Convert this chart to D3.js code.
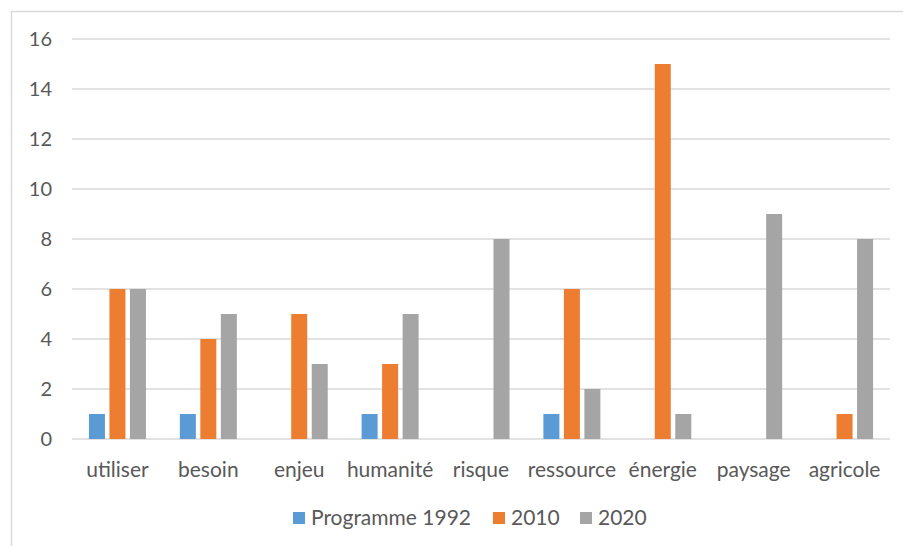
<!DOCTYPE html>
<html>
<head>
<meta charset="utf-8">
<script src="https://cdn.jsdelivr.net/npm/d3@7"></script>
<style>
  body { margin: 0; background: #fff; }
  text { font-family: Lato, "Open Sans", sans-serif; fill: #595959; }
</style>
</head>
<body>
<svg id="chart" width="903" height="546"></svg>
<script>
var categories = ["utiliser", "besoin", "enjeu", "humanité", "risque", "ressource", "énergie", "paysage", "agricole"];
var seriesNames = ["Programme 1992", "2010", "2020"];
var values1992 = [1, 1, 0, 1, 0, 1, 0, 0, 0];
var values2010 = [6, 4, 5, 3, 0, 6, 15, 0, 1];
var values2020 = [6, 5, 3, 5, 8, 2, 1, 9, 8];
var yTicks = [0, 2, 4, 6, 8, 10, 12, 14, 16];
var colors = ["#5B9BD5", "#ED7D31", "#A5A5A5"];

var svg = d3.select("#chart"),
    margin = {top: 39, right: 13, bottom: 107, left: 72},
    width = 903 - margin.left - margin.right,
    height = 546 - margin.top - margin.bottom;

// frame of the chart (only top and left edges are visible)
svg.append("rect")
    .attr("x", 11.5).attr("y", 11.5)
    .attr("width", 1000).attr("height", 1000)
    .attr("fill", "none")
    .attr("stroke", "#d9d9d9")
    .attr("stroke-width", 1.5);

var g = svg.append("g")
    .attr("transform", "translate(" + margin.left + "," + margin.top + ")");

var x = d3.scaleBand().domain(categories).range([0, width]);
var y = d3.scaleLinear().domain([0, 16]).range([height, 0]);
var barW = 16, step = 20.5;

// gridlines
g.selectAll(".grid")
    .data(yTicks)
    .enter().append("line")
    .attr("x1", 0).attr("x2", width)
    .attr("y1", function(d) { return y(d); })
    .attr("y2", function(d) { return y(d); })
    .attr("stroke", "#d9d9d9")
    .attr("stroke-width", 1.5);

// y labels
g.selectAll(".ytick")
    .data(yTicks)
    .enter().append("text")
    .attr("x", -20)
    .attr("y", function(d) { return y(d); })
    .attr("dy", "0.35em")
    .attr("text-anchor", "end")
    .attr("font-size", 20)
    .text(function(d) { return d; });

var series = [values1992, values2010, values2020];
series.forEach(function(vals, si) {
  g.selectAll(".bar" + si)
    .data(vals)
    .enter().append("rect")
    .attr("x", function(d, i) { return x(categories[i]) + x.bandwidth() / 2 + (si - 1) * step - barW / 2; })
    .attr("y", function(d) { return y(d); })
    .attr("width", barW)
    .attr("height", function(d) { return height - y(d); })
    .attr("fill", colors[si]);
});

// category labels
g.selectAll(".xlab")
    .data(categories)
    .enter().append("text")
    .attr("x", function(d) { return x(d) + x.bandwidth() / 2; })
    .attr("y", height + 38)
    .attr("text-anchor", "middle")
    .attr("font-size", 21)
    .text(function(d) { return d; });

// legend
var legendX = [293, 493, 580];
var legend = svg.selectAll(".legend")
    .data(seriesNames)
    .enter().append("g")
    .attr("transform", function(d, i) { return "translate(" + legendX[i] + ",512)"; });
legend.append("rect")
    .attr("width", 12).attr("height", 12)
    .attr("fill", function(d, i) { return colors[i]; });
legend.append("text")
    .attr("x", 18).attr("y", 6)
    .attr("dy", "0.35em")
    .attr("font-size", 21)
    .text(function(d) { return d; });
</script>
</body>
</html>
